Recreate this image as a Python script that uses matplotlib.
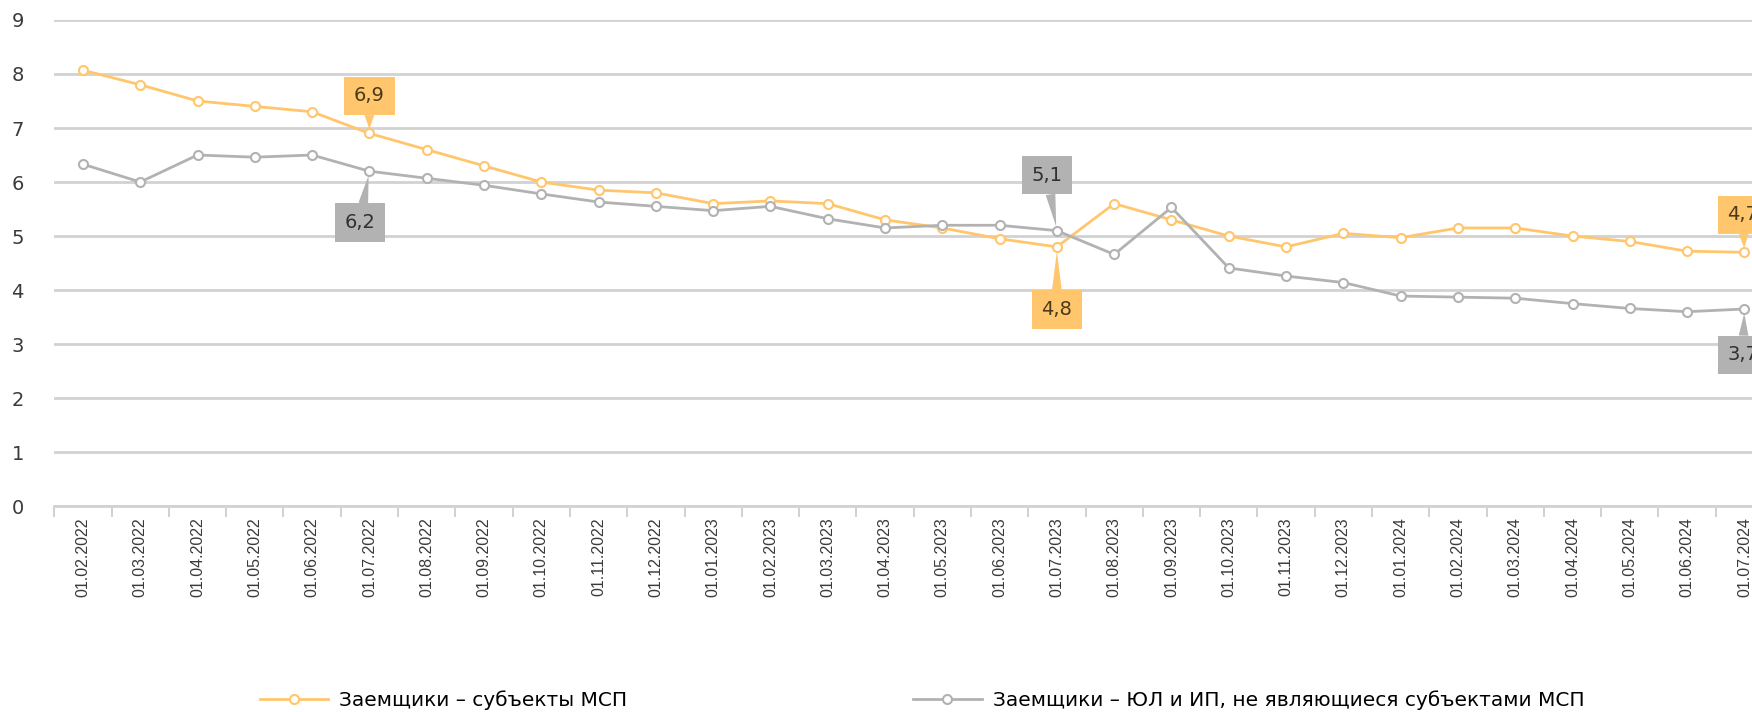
import matplotlib
matplotlib.use("Agg")
import matplotlib.pyplot as plt
import numpy as np

# Даты (первое число месяца)
dates = ["01.02.2022", "01.03.2022", "01.04.2022", "01.05.2022", "01.06.2022", "01.07.2022",
         "01.08.2022", "01.09.2022", "01.10.2022", "01.11.2022", "01.12.2022", "01.01.2023",
         "01.02.2023", "01.03.2023", "01.04.2023", "01.05.2023", "01.06.2023", "01.07.2023",
         "01.08.2023", "01.09.2023", "01.10.2023", "01.11.2023", "01.12.2023", "01.01.2024",
         "01.02.2024", "01.03.2024", "01.04.2024", "01.05.2024", "01.06.2024", "01.07.2024"]

# Заемщики - субъекты МСП
msp = [8.07, 7.8, 7.5, 7.4, 7.3, 6.9, 6.6, 6.3, 6.0, 5.85, 5.8, 5.6,
       5.65, 5.6, 5.3, 5.15, 4.95, 4.8, 5.6, 5.3, 5.0, 4.8, 5.05, 4.97,
       5.15, 5.15, 5.0, 4.9, 4.72, 4.7]

# Заемщики - ЮЛ и ИП, не являющиеся субъектами МСП
non_msp = [6.33, 6.0, 6.5, 6.46, 6.5, 6.2, 6.07, 5.94, 5.78, 5.63, 5.55, 5.47,
           5.55, 5.32, 5.15, 5.2, 5.2, 5.1, 4.66, 5.53, 4.41, 4.26, 4.14, 3.89,
           3.87, 3.85, 3.75, 3.66, 3.6, 3.65]

# подписи: (индекс, серия, текст, смещение)
labels = [(5, "msp", "6,9", (0, 27)),
          (5, "non", "6,2", (-7, -37)),
          (17, "non", "5,1", (-7, 40)),
          (17, "msp", "4,8", (0, -45)),
          (29, "msp", "4,7", (-1, 27)),
          (29, "non", "3,7", (-1, -33))]

orange = "#FFC66E"
gray = "#B2B2B2"
x = np.arange(len(dates))

fig = plt.figure(figsize=(17.52, 7.12), dpi=100)
ax = fig.add_axes([0.031, 0.289, 0.981, 0.683])

l1, = ax.plot(x, msp, color=orange, lw=2, marker="o", ms=6.5, mfc="white",
              mec=orange, mew=1.5, label="Заемщики – субъекты МСП", zorder=3)
l2, = ax.plot(x, non_msp, color=gray, lw=2, marker="o", ms=6.5, mfc="white",
              mec=gray, mew=1.5, label="Заемщики – ЮЛ и ИП, не являющиеся субъектами МСП", zorder=3)

ax.set_xlim(-0.5, 29.5)
ax.set_ylim(0, 9)
ax.set_yticks(range(0, 10))
ax.yaxis.grid(True, color="#D2D2D2", lw=2)
ax.set_axisbelow(True)
for s in ["top", "right", "left"]:
    ax.spines[s].set_visible(False)
ax.spines["bottom"].set_color("#D2D2D2")
ax.spines["bottom"].set_linewidth(2)

ax.set_xticks(x)
ax.set_xticklabels(dates, rotation=90, fontsize=11.5, color="#3A3A3A", family="Liberation Sans")
ax.set_xticks(np.arange(-0.5, 30, 1), minor=True)
ax.tick_params(axis="x", which="major", length=0, pad=8)
ax.tick_params(axis="x", which="minor", length=8, width=1.5, color="#D2D2D2")
ax.tick_params(axis="y", length=0, labelsize=14, labelcolor="#3A3A3A", pad=22)

for i, ser, txt, off in labels:
    if ser == "msp":
        y, fc, tc = msp[i], orange, "#4A3A1A"
    else:
        y, fc, tc = non_msp[i], gray, "#303030"
    ax.annotate(txt, xy=(i, y), xytext=off, textcoords="offset points",
                ha="center", va="center", fontsize=14, color=tc,
                bbox=dict(boxstyle="square,pad=0.5", fc=fc, ec="none"),
                arrowprops=dict(arrowstyle="wedge,tail_width=0.5,shrink_factor=0.5",
                                fc=fc, ec="none", shrinkA=0, shrinkB=3),
                zorder=5, annotation_clip=False)

# две подписи легенды внизу
for h, xa in [(l1, 0.147), (l2, 0.52)]:
    fig.legend(handles=[h], loc="lower left", bbox_to_anchor=(xa, 0.0),
               frameon=False, handlelength=3.4, handletextpad=0.55,
               borderpad=0, borderaxespad=0.1, prop={"size": 14.5})

fig.savefig("out.png", dpi=100)
